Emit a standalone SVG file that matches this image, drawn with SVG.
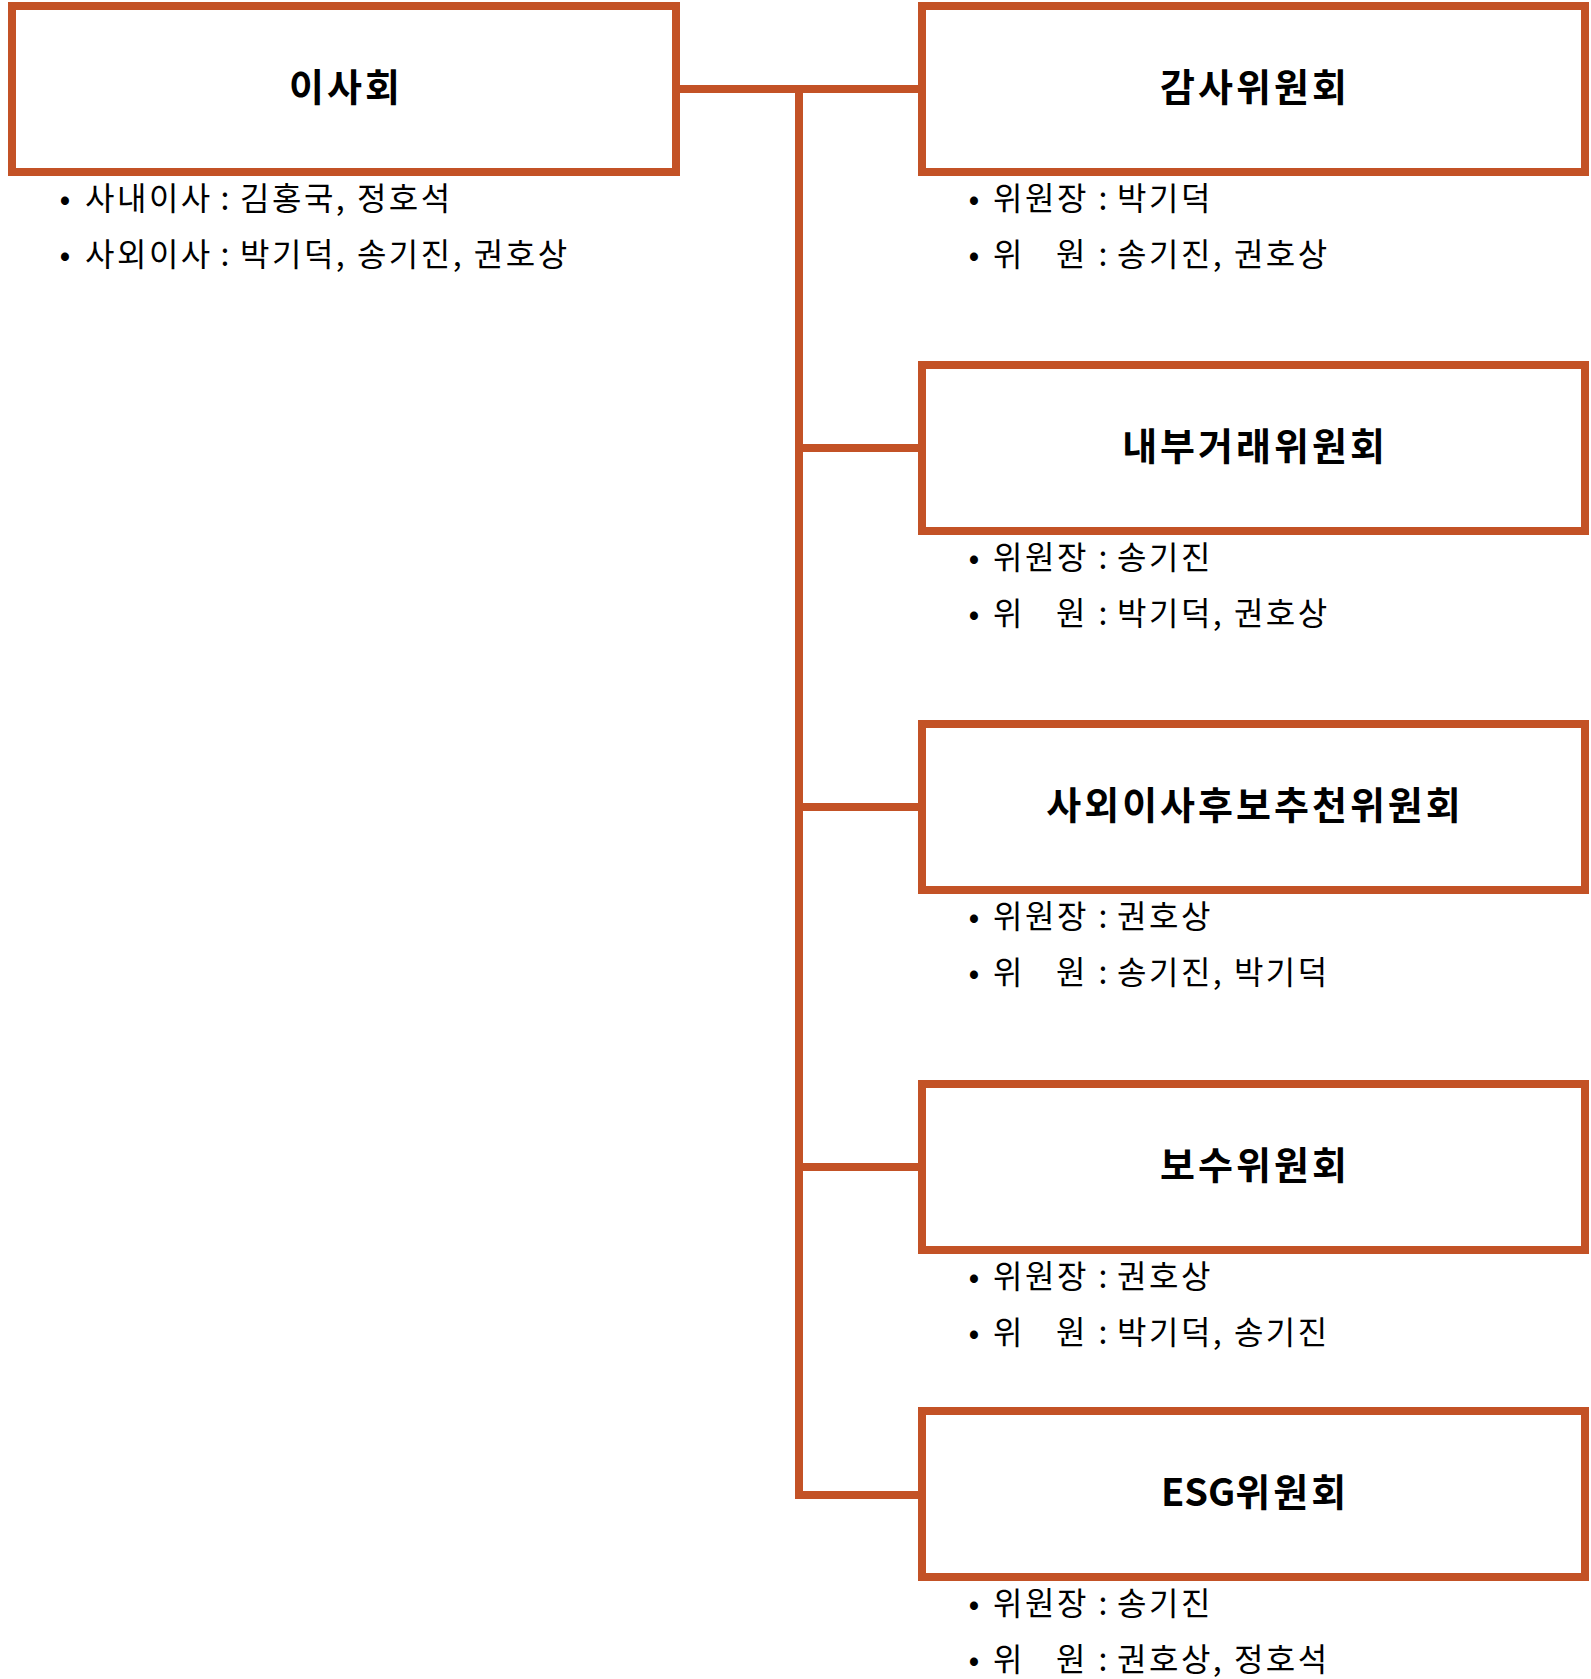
<svg xmlns="http://www.w3.org/2000/svg" width="1591" height="1679" viewBox="0 0 1591 1679">
<style>
.box{fill:#fff;stroke:#C35226;stroke-width:8}
.conn{fill:none;stroke:#C35226;stroke-width:8;stroke-linejoin:miter;stroke-linecap:butt}
.title{font-family:"Noto Sans CJK KR","Noto Sans",sans-serif;font-weight:bold;font-size:38px;letter-spacing:3px;fill:#000;text-anchor:middle}
.item{font-family:"Noto Sans CJK KR","Noto Sans",sans-serif;font-size:32px;letter-spacing:2.5px;fill:#000}
.bul{text-anchor:middle;letter-spacing:0}
.lat{letter-spacing:0}
</style>
<rect width="1591" height="1679" fill="#fff"/>
<g id="connectors">
<path class="conn" d="M676 89 H922"/>
<path class="conn" d="M799 89 V1495 H922"/>
<path class="conn" d="M799 448 H922"/>
<path class="conn" d="M799 807 H922"/>
<path class="conn" d="M799 1167 H922"/>
</g>
<g id="board">
<rect class="box" x="12" y="6" width="664" height="166"/>
<text class="title" x="346" y="101">이사회</text>
<text class="item"><tspan class="bul" x="65" y="210">•</tspan><tspan x="85" y="210">사내이사</tspan><tspan class="bul" x="225" y="210">:</tspan><tspan x="240" y="210">김홍국, 정호석</tspan></text>
<text class="item"><tspan class="bul" x="65" y="266">•</tspan><tspan x="85" y="266">사외이사</tspan><tspan class="bul" x="225" y="266">:</tspan><tspan x="240" y="266">박기덕, 송기진, 권호상</tspan></text>
</g>
<g id="audit">
<rect class="box" x="922" y="6" width="663" height="166"/>
<text class="title" x="1255" y="101">감사위원회</text>
<text class="item"><tspan class="bul" x="974" y="210">•</tspan><tspan x="993" y="210">위원장</tspan><tspan class="bul" x="1103" y="210">:</tspan><tspan x="1117" y="210">박기덕</tspan></text>
<text class="item"><tspan class="bul" x="974" y="266">•</tspan><tspan x="993" y="266">위</tspan><tspan x="1056" y="266">원</tspan><tspan class="bul" x="1103" y="266">:</tspan><tspan x="1117" y="266">송기진, 권호상</tspan></text>
</g>
<g id="internal">
<rect class="box" x="922" y="365" width="663" height="166"/>
<text class="title" x="1255" y="460">내부거래위원회</text>
<text class="item"><tspan class="bul" x="974" y="569">•</tspan><tspan x="993" y="569">위원장</tspan><tspan class="bul" x="1103" y="569">:</tspan><tspan x="1117" y="569">송기진</tspan></text>
<text class="item"><tspan class="bul" x="974" y="625">•</tspan><tspan x="993" y="625">위</tspan><tspan x="1056" y="625">원</tspan><tspan class="bul" x="1103" y="625">:</tspan><tspan x="1117" y="625">박기덕, 권호상</tspan></text>
</g>
<g id="nomination">
<rect class="box" x="922" y="724" width="663" height="166"/>
<text class="title" x="1255" y="819">사외이사후보추천위원회</text>
<text class="item"><tspan class="bul" x="974" y="928">•</tspan><tspan x="993" y="928">위원장</tspan><tspan class="bul" x="1103" y="928">:</tspan><tspan x="1117" y="928">권호상</tspan></text>
<text class="item"><tspan class="bul" x="974" y="984">•</tspan><tspan x="993" y="984">위</tspan><tspan x="1056" y="984">원</tspan><tspan class="bul" x="1103" y="984">:</tspan><tspan x="1117" y="984">송기진, 박기덕</tspan></text>
</g>
<g id="compensation">
<rect class="box" x="922" y="1084" width="663" height="166"/>
<text class="title" x="1255" y="1179">보수위원회</text>
<text class="item"><tspan class="bul" x="974" y="1288">•</tspan><tspan x="993" y="1288">위원장</tspan><tspan class="bul" x="1103" y="1288">:</tspan><tspan x="1117" y="1288">권호상</tspan></text>
<text class="item"><tspan class="bul" x="974" y="1344">•</tspan><tspan x="993" y="1344">위</tspan><tspan x="1056" y="1344">원</tspan><tspan class="bul" x="1103" y="1344">:</tspan><tspan x="1117" y="1344">박기덕, 송기진</tspan></text>
</g>
<g id="esg">
<rect class="box" x="922" y="1411" width="663" height="166"/>
<text class="title" x="1255" y="1506"><tspan class="lat">ESG</tspan>위원회</text>
<text class="item"><tspan class="bul" x="974" y="1615">•</tspan><tspan x="993" y="1615">위원장</tspan><tspan class="bul" x="1103" y="1615">:</tspan><tspan x="1117" y="1615">송기진</tspan></text>
<text class="item"><tspan class="bul" x="974" y="1671">•</tspan><tspan x="993" y="1671">위</tspan><tspan x="1056" y="1671">원</tspan><tspan class="bul" x="1103" y="1671">:</tspan><tspan x="1117" y="1671">권호상, 정호석</tspan></text>
</g>
</svg>
